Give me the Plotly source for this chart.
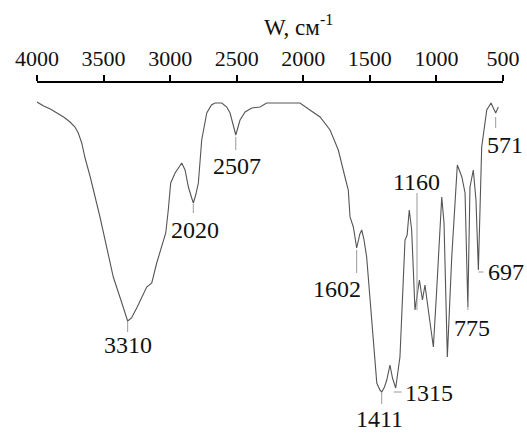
import numpy as np
import plotly.graph_objects as go

# ---- data (wavenumber, relative transmittance) ----
wavenumber = [4000, 3950, 3900, 3850, 3800, 3752, 3715, 3690, 3664, 3639, 3600, 3527,
              3427, 3370, 3340, 3319, 3290, 3251, 3176, 3138, 3101, 3033, 3014, 2996,
              2963, 2935, 2913, 2888, 2863, 2845, 2826, 2808, 2788, 2763, 2725, 2690,
              2663, 2612, 2575, 2550, 2525, 2507, 2490, 2475, 2437, 2387, 2325, 2275,
              2175, 2025, 1950, 1874, 1799, 1737, 1687, 1662, 1649, 1636, 1624, 1599,
              1575, 1561, 1545, 1524, 1486, 1448, 1425, 1411, 1390, 1373, 1349, 1330,
              1306, 1290, 1274, 1236, 1220, 1204, 1186, 1161, 1128, 1105, 1086, 1061,
              1023, 998, 960, 943, 918, 885, 843, 809, 785, 764, 748, 723, 703, 685,
              660, 622, 590, 555, 535]
transmittance = [332, 328, 325, 321, 317, 312, 307, 301, 291, 276, 257, 217,
                 157, 134, 122, 113, 116, 126, 147, 151, 171, 201, 224, 251,
                 261, 267, 271, 264, 247, 239, 231, 239, 251, 294, 321, 329,
                 331, 331, 327, 321, 309, 299, 307, 314, 322, 326, 327, 331,
                 331, 331, 324, 317, 304, 284, 257, 244, 217, 212, 207, 186,
                 200, 204, 195, 177, 111, 51, 44, 42, 47, 54, 69, 56,
                 46, 60, 77, 194, 199, 224, 204, 124, 154, 134, 149, 124,
                 87, 144, 237, 211, 77, 177, 269, 257, 241, 127, 247, 264, 234, 164,
                 287, 324, 331, 321, 327]

tick_values = [4000, 3500, 3000, 2500, 2000, 1500, 1000, 500]
tick_labels = ["4000", "3500", "3000", "2500", "2000", "1500", "1000", "500"]

peak_labels = ["3310", "2020", "2507", "1602", "1411", "1315", "1160", "775", "697", "571"]
peak_wavenumbers = [3319, 2826, 2507, 1599, 1411, 1306, 1161, 764, 685, 555]

axis_title = "W, см<sup>-1</sup>"

# ---- label styling (pixel offsets from each peak point; y positive = up) ----
# (line dx0, dy0, dx1, dy1, text xshift, text yshift, text xanchor)
label_layout = [
    (0, -1, 0, -11, 0, -24, "center"),
    (0, -1, 0, -10, 2, -27, "center"),
    (0, -2, 0, -15, 1, -31, "center"),
    (0, -2, 0, -25, -20, -41, "center"),
    (0, -1, 0, -12, -2, -27, "center"),
    (-2, -4, 6, -4, 7, -5, "left"),
    (2, 0, 2, 117, 2, 128, "center"),
    (0, 5, 0, -3, 4, -21, "center"),
    (0, -2, 5, -2, 8, -2, "left"),
    (0, -4, 0, -15, 9, -32, "center"),
]

FONT = "Liberation Serif"

order = np.argsort(wavenumber)
w_sorted = np.array(wavenumber)[order]
t_sorted = np.array(transmittance)[order]
peak_values = np.interp(peak_wavenumbers, w_sorted, t_sorted)

fig = go.Figure()
fig.add_trace(go.Scatter(x=wavenumber, y=transmittance, mode="lines",
                         line=dict(color="#555555", width=1.1), hoverinfo="skip",
                         showlegend=False))

shapes = []
annotations = []
for lab, wn, val, lay in zip(peak_labels, peak_wavenumbers, peak_values, label_layout):
    dx0, dy0, dx1, dy1, tx, ty, anc = lay
    shapes.append(dict(type="line", xref="x", yref="y",
                       xsizemode="pixel", ysizemode="pixel",
                       xanchor=wn, yanchor=float(val),
                       x0=dx0, x1=dx1, y0=dy0, y1=dy1,
                       line=dict(color="#9a9a9a", width=1)))
    annotations.append(dict(x=wn, y=float(val), xref="x", yref="y", text=lab,
                            showarrow=False, xshift=tx, yshift=ty,
                            xanchor=anc, yanchor="middle",
                            font=dict(family=FONT, size=24, color="#111111")))

annotations.append(dict(x=0.562, y=1.165, xref="paper", yref="paper", text=axis_title,
                        showarrow=False, xanchor="center", yanchor="middle",
                        font=dict(family=FONT, size=23, color="#111111")))

fig.update_layout(
    width=527, height=434,
    margin=dict(l=37, r=24, t=83, b=0),
    paper_bgcolor="white", plot_bgcolor="white",
    font=dict(family=FONT),
    shapes=shapes, annotations=annotations,
    xaxis=dict(side="top", range=[4000, 500], tickvals=tick_values, ticktext=tick_labels,
               ticks="outside", ticklen=6, tickwidth=2, tickcolor="black",
               showline=True, linewidth=2, linecolor="black",
               showgrid=False, zeroline=False,
               tickfont=dict(family=FONT, size=22, color="#111111")),
    yaxis=dict(range=[0, 351], visible=False, showgrid=False, zeroline=False),
)

fig.write_html("out.html", config={"displayModeBar": False},
               post_script="document.body.style.margin='0';document.body.style.padding='0';")
